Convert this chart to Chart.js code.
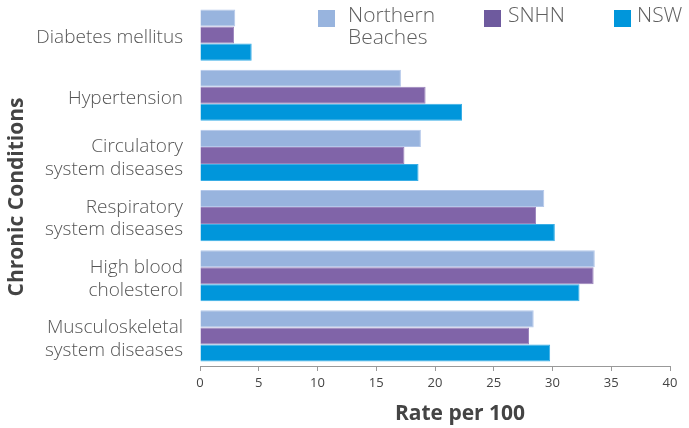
<!DOCTYPE html>
<html>
<head>
<meta charset="utf-8">
<script src="https://cdn.jsdelivr.net/npm/chart.js@4"></script>
<style>
  html, body { margin: 0; padding: 0; background: #fff; }
  #wrap { width: 689px; height: 428px; position: relative; }
</style>
</head>
<body>
<div id="wrap"><canvas id="chronicChart"></canvas></div>
<script>
// chart values
const categories = [
  ['Diabetes mellitus'],
  ['Hypertension'],
  ['Circulatory', 'system diseases'],
  ['Respiratory', 'system diseases'],
  ['High blood', 'cholesterol'],
  ['Musculoskeletal', 'system diseases']
];
const seriesNames = [['Northern', 'Beaches'], ['SNHN'], ['NSW']];
const northernBeaches = [3.0, 17.1, 18.8, 29.3, 33.6, 28.4];
const snhn = [2.9, 19.2, 17.4, 28.6, 33.5, 28.0];
const nsw = [4.4, 22.3, 18.6, 30.2, 32.3, 29.8];
const xTicks = [0, 5, 10, 15, 20, 25, 30, 35, 40];

const FONT = "'Open Sans', 'Noto Sans', sans-serif";

// legend drawn by hand: it sits inside the plot, top right, with a wrapped label
const legendPlugin = {
  id: 'cornerLegend',
  afterDraw(chart) {
    const ctx = chart.ctx;
    const spots = [318, 484, 614];
    const gaps = [30, 24, 23];
    ctx.save();
    ctx.font = '300 21px ' + FONT;
    ctx.textBaseline = 'top';
    chart.data.datasets.forEach((ds, i) => {
      const x = spots[i];
      ctx.fillStyle = ds.legendColor;
      ctx.fillRect(x, 10, 17, 17);
      ctx.fillStyle = '#5f5f5f';
      const lines = Array.isArray(ds.label) ? ds.label : [ds.label];
      lines.forEach((t, j) => ctx.fillText(t, x + gaps[i], 6 + j * 22));
    });
    ctx.restore();
  }
};

// axis titles, both sit a little off the plot centre in the original
const axisTitles = {
  id: 'axisTitles',
  afterDraw(chart) {
    const ctx = chart.ctx;
    ctx.save();
    ctx.font = 'bold 21px ' + FONT;
    ctx.fillStyle = '#444';
    ctx.textAlign = 'center';
    ctx.textBaseline = 'middle';
    ctx.fillText('Rate per 100', 460, 414);
    ctx.translate(17, 197);
    ctx.rotate(-Math.PI / 2);
    ctx.fillText('Chronic Conditions', 0, 0);
    ctx.restore();
  }
};

const mkSet = (name, values, fill, edge, legendColor) => ({
  label: name.length > 1 ? name : name[0],
  data: values,
  backgroundColor: fill,
  borderColor: edge,
  borderWidth: 1,
  legendColor: legendColor,
  categoryPercentage: 0.85,
  barPercentage: 1
});

new Chart(document.getElementById('chronicChart'), {
  type: 'bar',
  data: {
    labels: categories,
    datasets: [
      mkSet(seriesNames[0], northernBeaches, '#98b4de', '#b4c8ea', '#98b4de'),
      mkSet(seriesNames[1], snhn, '#8064a8', '#9a84bc', '#6e5a9e'),
      mkSet(seriesNames[2], nsw, '#0096db', '#3aaee6', '#0096db')
    ]
  },
  options: {
    indexAxis: 'y',
    responsive: true,
    maintainAspectRatio: false,
    animation: false,
    layout: { padding: { top: 5, right: 19, left: 0, bottom: 0 } },
    plugins: {
      legend: { display: false },
      tooltip: { enabled: false }
    },
    scales: {
      x: {
        min: 0,
        max: 40,
        afterBuildTicks: (scale) => { scale.ticks = xTicks.map((v) => ({ value: v })); },
        afterFit: (scale) => { scale.height = 62; scale.paddingLeft = 0; scale.paddingRight = 0; },
        grid: { drawOnChartArea: false, drawTicks: true, tickLength: 5, color: '#999' },
        border: { display: true, color: '#999', width: 1 },
        ticks: { color: '#444', font: { family: FONT, size: 13 }, padding: 4, maxRotation: 0 }
      },
      y: {
        afterFit: (scale) => { scale.width = 200; scale.paddingTop = 0; scale.paddingBottom = 0; },
        grid: { display: false },
        border: { display: false },
        ticks: {
          color: '#555',
          font: { family: FONT, size: 19, weight: '300', lineHeight: 1.2 },
          padding: 9,
          labelOffset: 3
        }
      }
    }
  },
  plugins: [legendPlugin, axisTitles]
});
</script>
</body>
</html>
